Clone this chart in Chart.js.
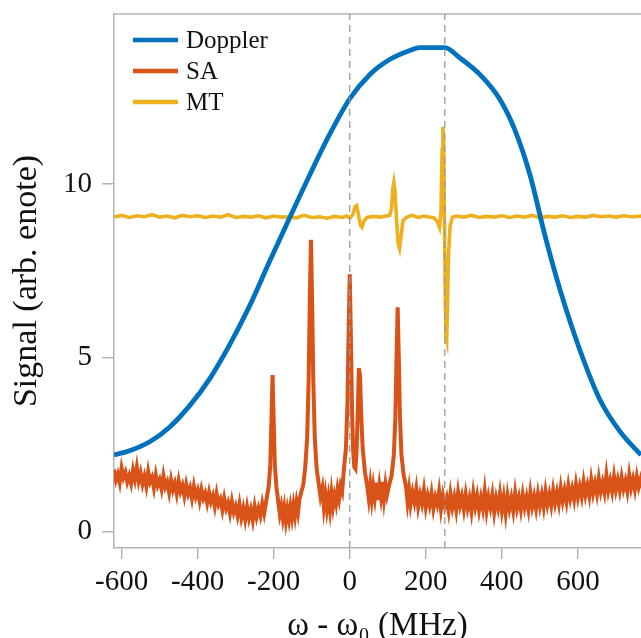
<!DOCTYPE html>
<html>
<head>
<meta charset="utf-8">
<script src="https://cdn.jsdelivr.net/npm/chart.js@4/dist/chart.umd.min.js"></script>
<style>
  html, body { margin: 0; padding: 0; background: #fff; overflow: hidden; }
  canvas { display: block; }
</style>
</head>
<body>
<canvas id="grafico" width="641" height="638"></canvas>
<script>
// asse x (MHz) e asse y
const xMin = -620, xMax = 766;
const yMin = -0.48, yMax = 14.9;
const xTicks = [-600, -400, -200, 0, 200, 400, 600];
const yTicks = [0, 5, 10];
const lineeTratteggiate = [0, 250];

// Doppler
const dopplerX = [-620, -579, -526, -474, -421, -368, -316, -263, -211, -158, -105, -53, 0, 53, 105, 158, 184, 250, 289, 342, 395, 434, 474, 513, 553, 605, 658, 711, 766];
const dopplerY = [2.2, 2.32, 2.58, 3.0, 3.62, 4.4, 5.37, 6.5, 7.77, 9.03, 10.27, 11.43, 12.46, 13.16, 13.59, 13.85, 13.93, 13.93, 13.64, 13.16, 12.44, 11.57, 10.27, 8.54, 6.96, 5.23, 3.79, 2.87, 2.2];

// SA (assorbimento saturato)
const saX = [
  -620, -615, -610, -605, -600, -595, -590, -585, -580, -575, -570, -565, -560, -555, -550, -545, -540, -535, -530, -525,
  -520, -515, -510, -505, -500, -495, -490, -485, -480, -475, -470, -465, -460, -455, -450, -445, -440, -435, -430, -425,
  -420, -415, -410, -405, -400, -395, -390, -385, -380, -375, -370, -365, -360, -355, -350, -345, -340, -335, -330, -325,
  -320, -315, -310, -305, -300, -295, -290, -285, -280, -275, -270, -265, -260, -255, -250, -245, -240, -235, -230, -225,
  -220,
  -213, -209, -206, -203, -200, -197, -193, -188,
  -184, -180, -176, -172, -168, -164, -160, -156, -152, -148, -144, -140, -136, -132,
  -127, -122, -117, -112, -108, -105, -102, -99, -96, -92, -87, -82, -77, -72,
  -68, -64, -60, -56, -52, -48, -44, -40, -36, -32, -28, -24, -20, -16, -10, -6, -3, 0, 3, 6,
  9, 12, 15, 18, 21, 24, 27, 30, 34, 40, 46,
  50, 54, 58, 62, 66, 70, 74, 78, 82, 86, 90, 94, 98,
  104, 110, 116, 120, 123, 126, 129, 132, 136, 142, 148, 152, 156,
  160, 165, 170, 175, 180, 185, 190, 195, 200, 205, 210, 215, 220, 225, 230, 235, 240, 245, 250, 255,
  260, 265, 270, 275, 280, 285, 290, 295, 300, 305, 310, 315, 320, 325, 330, 335, 340, 345, 350, 355,
  360, 365, 370, 375, 380, 385, 390, 395, 400, 405, 410, 415, 420, 425, 430, 435, 440, 445, 450, 455,
  460, 465, 470, 475, 480, 485, 490, 495, 500, 505, 510, 515, 520, 525, 530, 535, 540, 545, 550, 555,
  560, 565, 570, 575, 580, 585, 590, 595, 600, 605, 610, 615, 620, 625, 630, 635, 640, 645, 650, 655,
  660, 665, 670, 675, 680, 685, 690, 695, 700, 705, 710, 715, 720, 725, 730, 735, 740, 745, 750, 755,
  760, 765, 770
];
const saY = [
  1.78, 1.48, 1.65, 1.40, 1.82, 1.55, 1.70, 1.42, 1.60, 1.38, 1.76, 1.50, 1.85, 1.45, 1.68, 1.36, 1.58, 1.30, 1.72, 1.42,
  1.55, 1.25, 1.62, 1.33, 1.48, 1.22, 1.60, 1.28, 1.42, 1.12, 1.48, 1.20, 1.38, 1.08, 1.45, 1.15, 1.32, 1.02, 1.35, 1.08,
  1.25, 0.95, 1.30, 1.00, 1.18, 0.88, 1.20, 0.95, 1.10, 0.82, 1.12, 0.85, 1.02, 0.72, 1.08, 0.78, 0.92, 0.62, 0.95, 0.66,
  0.82, 0.52, 0.86, 0.55, 0.72, 0.45, 0.78, 0.40, 0.66, 0.34, 0.70, 0.38, 0.62, 0.32, 0.72, 0.42, 0.66, 0.45, 0.80, 0.52,
  0.85,
  1.3, 1.9, 3.17, 4.5, 3.17, 1.9, 1.3, 0.85,
  0.5, 0.72, 0.38, 0.68, 0.3, 0.62, 0.35, 0.7, 0.4, 0.75, 0.45, 0.82, 0.55, 0.95,
  1.15, 1.35, 1.85, 2.7, 4.4, 6.7, 8.4, 6.7, 4.4, 2.7, 1.8, 1.4, 1.0, 1.25,
  0.7, 1.05, 0.65, 0.98, 0.62, 1.1, 0.72, 1.02, 0.8, 1.2, 0.95, 1.3, 1.15, 1.7, 2.4, 3.7, 5.76, 7.4, 5.6, 3.5,
  2.3, 1.85, 1.8, 2.3, 3.4, 4.7, 4.5, 3.4, 2.4, 1.7, 1.3,
  0.95, 1.35, 0.92, 1.3, 0.98, 1.4, 0.9, 1.32, 1.0, 1.42, 0.95, 1.35, 1.05,
  1.35, 1.6, 2.2, 3.3, 5.03, 6.45, 5.03, 3.3, 2.2, 1.6, 1.3, 0.85, 1.2,
  0.78, 1.12, 0.85, 1.22, 0.72, 1.05, 0.80, 1.18, 0.70, 1.02, 0.76, 1.10, 0.66, 0.98, 0.78, 1.15, 0.64, 1.02, 0.72, 0.95,
  0.60, 1.08, 0.70, 0.98, 0.62, 1.12, 0.75, 1.00, 0.64, 1.06, 0.68, 0.95, 0.58, 1.10, 0.72, 1.02, 0.62, 0.96, 0.66, 1.15,
  0.60, 0.98, 0.70, 1.05, 0.55, 0.95, 0.68, 1.08, 0.60, 0.98, 0.52, 1.02, 0.66, 0.95, 0.60, 1.10, 0.68, 0.96, 0.62, 1.05,
  0.70, 0.98, 0.64, 1.12, 0.72, 1.00, 0.66, 1.08, 0.74, 1.05, 0.70, 1.15, 0.78, 1.06, 0.75, 1.18, 0.82, 1.12, 0.80, 1.25,
  0.88, 1.18, 0.86, 1.30, 0.95, 1.22, 0.92, 1.35, 0.98, 1.28, 1.00, 1.42, 1.05, 1.32, 1.02, 1.48, 1.10, 1.38, 1.08, 1.52,
  1.15, 1.40, 1.12, 1.62, 1.18, 1.45, 1.15, 1.58, 1.20, 1.48, 1.18, 1.55, 1.22, 1.45, 1.15, 1.62, 1.25, 1.50, 1.20, 1.58,
  1.28, 1.50, 1.25
];

// MT (modulation transfer)
const mtX = [
  -620, -600, -580, -560, -540, -520, -500, -480, -460, -440, -420, -400, -380, -360, -340, -320, -300, -280, -260, -240,
  -220, -200, -180, -160, -140, -120, -100, -80, -60, -40, -20, -8, 0, 8, 14, 18, 23, 28, 32, 38,
  45, 60, 80, 95, 105, 110, 113, 116, 119, 123, 127, 131, 135, 140, 150, 165, 180, 195, 210, 222,
  230, 236, 240, 243, 245, 247, 249, 251, 253, 255, 257, 260, 264, 270, 280, 300, 320, 340, 360, 380,
  400, 420, 440, 460, 480, 500, 520, 540, 560, 580, 600, 620, 640, 660, 680, 700, 720, 740, 770
];
const mtY = [
  9.05, 9.1, 9.04, 9.09, 9.06, 9.12, 9.05, 9.08, 9.03, 9.1, 9.06, 9.09, 9.04, 9.08, 9.05, 9.12, 9.04, 9.07, 9.05, 9.09,
  9.03, 9.08, 9.05, 9.06, 9.03, 9.1, 9.04, 9.06, 9.02, 9.07, 9.04, 9.08, 9.02, 9.12, 9.35, 9.38, 9.12, 8.82, 8.76, 8.95,
  9.04, 9.07, 9.05, 9.08, 9.1, 9.3, 9.85, 10.05, 9.8, 9.0, 8.3, 8.15, 8.5, 8.95, 9.05, 9.1, 9.04, 9.08, 9.05, 9.03,
  8.92, 8.75, 9.2, 11.0, 11.65, 11.2, 9.0, 7.0, 5.6, 5.5, 6.5, 8.0, 8.8, 9.05, 9.08, 9.05, 9.1, 9.04, 9.07, 9.05,
  9.09, 9.04, 9.08, 9.05, 9.1, 9.03, 9.07, 9.05, 9.09, 9.04, 9.07, 9.05, 9.1, 9.06, 9.08, 9.05, 9.09, 9.06, 9.08
];

const colori = { doppler: '#0072BD', sa: '#D95319', mt: '#EDB120' };
const fontSerif = '"Liberation Serif", "Times New Roman", serif';

function punti(xs, ys) {
  if (xs.length !== ys.length) console.error('lunghezze diverse', xs.length, ys.length);
  return xs.map((x, i) => ({ x, y: ys[i] }));
}

// cornice superiore
const cornice = {
  id: 'cornice',
  beforeDatasetsDraw(chart) {
    const { ctx, chartArea: a } = chart;
    ctx.save();
    ctx.strokeStyle = '#b4b4b4';
    ctx.lineWidth = 1.5;
    ctx.beginPath();
    ctx.moveTo(a.left, a.top);
    ctx.lineTo(a.right, a.top);
    ctx.stroke();
    ctx.restore();
  }
};

// legenda dentro l'area del grafico
const legendaInterna = {
  id: 'legendaInterna',
  afterDatasetsDraw(chart) {
    const { ctx, chartArea: a } = chart;
    ctx.save();
    ctx.font = '25px ' + fontSerif;
    ctx.textBaseline = 'middle';
    ctx.fillStyle = '#111';
    chart.data.datasets.filter(d => d.legenda).forEach((d, i) => {
      const y = a.top + 26 + i * 31;
      ctx.strokeStyle = d.borderColor;
      ctx.lineWidth = 4.5;
      ctx.beginPath();
      ctx.moveTo(a.left + 19, y);
      ctx.lineTo(a.left + 64, y);
      ctx.stroke();
      ctx.fillText(d.label, a.left + 72, y + 1);
    });
    ctx.restore();
  }
};

const datasets = [
  ...lineeTratteggiate.map(x0 => ({
    label: 'riferimento',
    data: [{ x: x0, y: yMin }, { x: x0, y: yMax }],
    borderColor: '#9a9a9a',
    borderWidth: 1.3,
    borderDash: [7, 5],
    pointRadius: 0
  })),
  {
    label: 'Doppler',
    legenda: true,
    data: punti(dopplerX, dopplerY),
    borderColor: colori.doppler,
    borderWidth: 4.8,
    pointRadius: 0,
    cubicInterpolationMode: 'monotone'
  },
  {
    label: 'SA',
    legenda: true,
    data: punti(saX, saY),
    borderColor: colori.sa,
    borderWidth: 4,
    pointRadius: 0,
    tension: 0
  },
  {
    label: 'MT',
    legenda: true,
    data: punti(mtX, mtY),
    borderColor: colori.mt,
    borderWidth: 3.6,
    pointRadius: 0,
    tension: 0
  }
];

// SA sotto MT, MT sotto Doppler
datasets[2].order = 1;
datasets[4].order = 2;
datasets[3].order = 3;

new Chart(document.getElementById('grafico').getContext('2d'), {
  type: 'line',
  data: { datasets },
  options: {
    responsive: false,
    animation: false,
    devicePixelRatio: 1,
    layout: { padding: { top: 14, right: 0, bottom: 0, left: 0 } },
    plugins: { legend: { display: false }, tooltip: { enabled: false } },
    scales: {
      x: {
        type: 'linear',
        min: xMin,
        max: xMax,
        afterFit: s => { s.height = 90; s.paddingLeft = 0; s.paddingRight = 0; },
        afterBuildTicks: s => { s.ticks = xTicks.map(v => ({ value: v })); },
        ticks: {
          font: { family: fontSerif, size: 29 },
          color: '#111',
          padding: 6,
          maxRotation: 0,
          autoSkip: false
        },
        grid: { drawOnChartArea: false, drawTicks: true, tickLength: 11, color: '#b4b4b4', lineWidth: 1.5 },
        border: { display: true, color: '#b4b4b4', width: 1.5 },
        title: {
          display: true,
          text: 'ω - ω₀ (MHz)',
          font: { family: fontSerif, size: 33, lineHeight: 1 },
          color: '#111',
          padding: { top: 0, bottom: -5 }
        }
      },
      y: {
        min: yMin,
        max: yMax,
        afterFit: s => { s.width = 114; s.paddingTop = 0; s.paddingBottom = 0; },
        afterBuildTicks: s => { s.ticks = yTicks.map(v => ({ value: v })); },
        ticks: {
          font: { family: fontSerif, size: 29 },
          color: '#111',
          padding: 10
        },
        grid: { drawOnChartArea: false, drawTicks: true, tickLength: 12, color: '#b4b4b4', lineWidth: 1.5 },
        border: { display: true, color: '#b4b4b4', width: 1.5 },
        title: {
          display: true,
          text: 'Signal (arb. enote)',
          font: { family: fontSerif, size: 34, lineHeight: 1.2 },
          color: '#111',
          padding: { top: 7, bottom: 0 }
        }
      }
    }
  },
  plugins: [cornice, legendaInterna]
});
</script>
</body>
</html>
